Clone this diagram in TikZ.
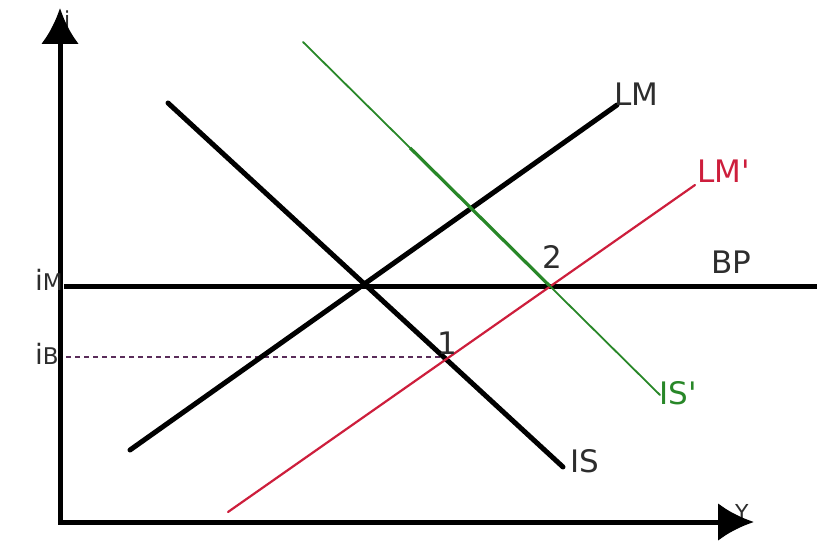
\documentclass[tikz,border=0pt]{standalone}
\usepackage{fontspec}
\setmainfont{DejaVu Sans}
\usetikzlibrary{arrows.meta,calc}
\definecolor{txt}{RGB}{45,45,45}
\definecolor{lmred}{RGB}{205,30,60}
\definecolor{isgreen}{RGB}{40,135,40}
\definecolor{dashpurple}{RGB}{90,45,90}
\tikzset{
  axis/.style={line width=5pt, -{Latex[length=36pt,width=38pt]}},
  curve/.style={line width=5pt, line cap=round},
  lbl/.style={inner sep=0pt, text=txt, font=\fontsize{31}{33}\selectfont, anchor=base west},
}
\begin{document}
\begin{tikzpicture}[x=1pt,y=-1pt]
\useasboundingbox (0,0) rectangle (817,545);
% coordinates
\coordinate (O) at (60,524);
\coordinate (ytop) at (60,8);
\coordinate (xend) at (754,522);
\coordinate (bpL) at (64,287);
\coordinate (bpR) at (817,287);
\coordinate (lmA) at (130,450);
\coordinate (lmB) at (617,105);
\coordinate (isA) at (168,103);
\coordinate (isB) at (563,467);
\coordinate (lmpA) at (228,512);
\coordinate (lmpB) at (695,185);
\coordinate (ispA) at (303,42);
\coordinate (ispB) at (660,395);
\coordinate (ispM1) at ($(ispA)!0.30!(ispB)$);
\coordinate (ispM2) at ($(ispA)!0.69!(ispB)$);
\coordinate (dL) at (66,357);
\coordinate (dR) at (444,357);
% axis labels
\node[lbl, font=\fontsize{22}{24}\selectfont] (ilab) at (64,28) {i};
\node[lbl, font=\fontsize{22}{24}\selectfont] (ylab) at (735,520) {Y};
% axes
\draw[axis] (O) -- (ytop);
\draw[axis] (58,522) -- (xend);
% BP
\draw[line width=5pt] (bpL) -- (bpR);
% dashed iB line
\draw[dashpurple, line width=1.6pt, dash pattern=on 5pt off 4pt] (dL) -- (dR);
% IS, LM
\draw[curve] (lmA) -- (lmB);
\draw[curve] (isA) -- (isB);
% LM'
\draw[lmred, line width=2.2pt, line cap=round] (lmpA) -- (lmpB);
% IS'
\draw[isgreen, line width=1.8pt, line cap=round] (ispA) -- (ispB);
\draw[isgreen, line width=3.2pt] (ispM1) -- (ispM2);
% labels
\node[lbl] (LMl) at (614,106) {LM};
\node[lbl, text=lmred] (LMpl) at (697,183) {LM\textquotesingle};
\node[lbl] (BPl) at (711,274) {BP};
\node[lbl] (ISl) at (570,472) {IS};
\node[lbl, text=isgreen] (ISpl) at (659,405) {IS\textquotesingle};
\node[lbl] (p1) at (437,355) {1};
\node[lbl] (p2) at (542,269) {2};
\node[lbl, font=\fontsize{28}{30}\selectfont] (iM) at (35,291) {i\fontsize{23}{24}\selectfont M};
\node[lbl, font=\fontsize{28}{30}\selectfont] (iB) at (35,365) {i\fontsize{23}{24}\selectfont B};
\end{tikzpicture}
\end{document}
